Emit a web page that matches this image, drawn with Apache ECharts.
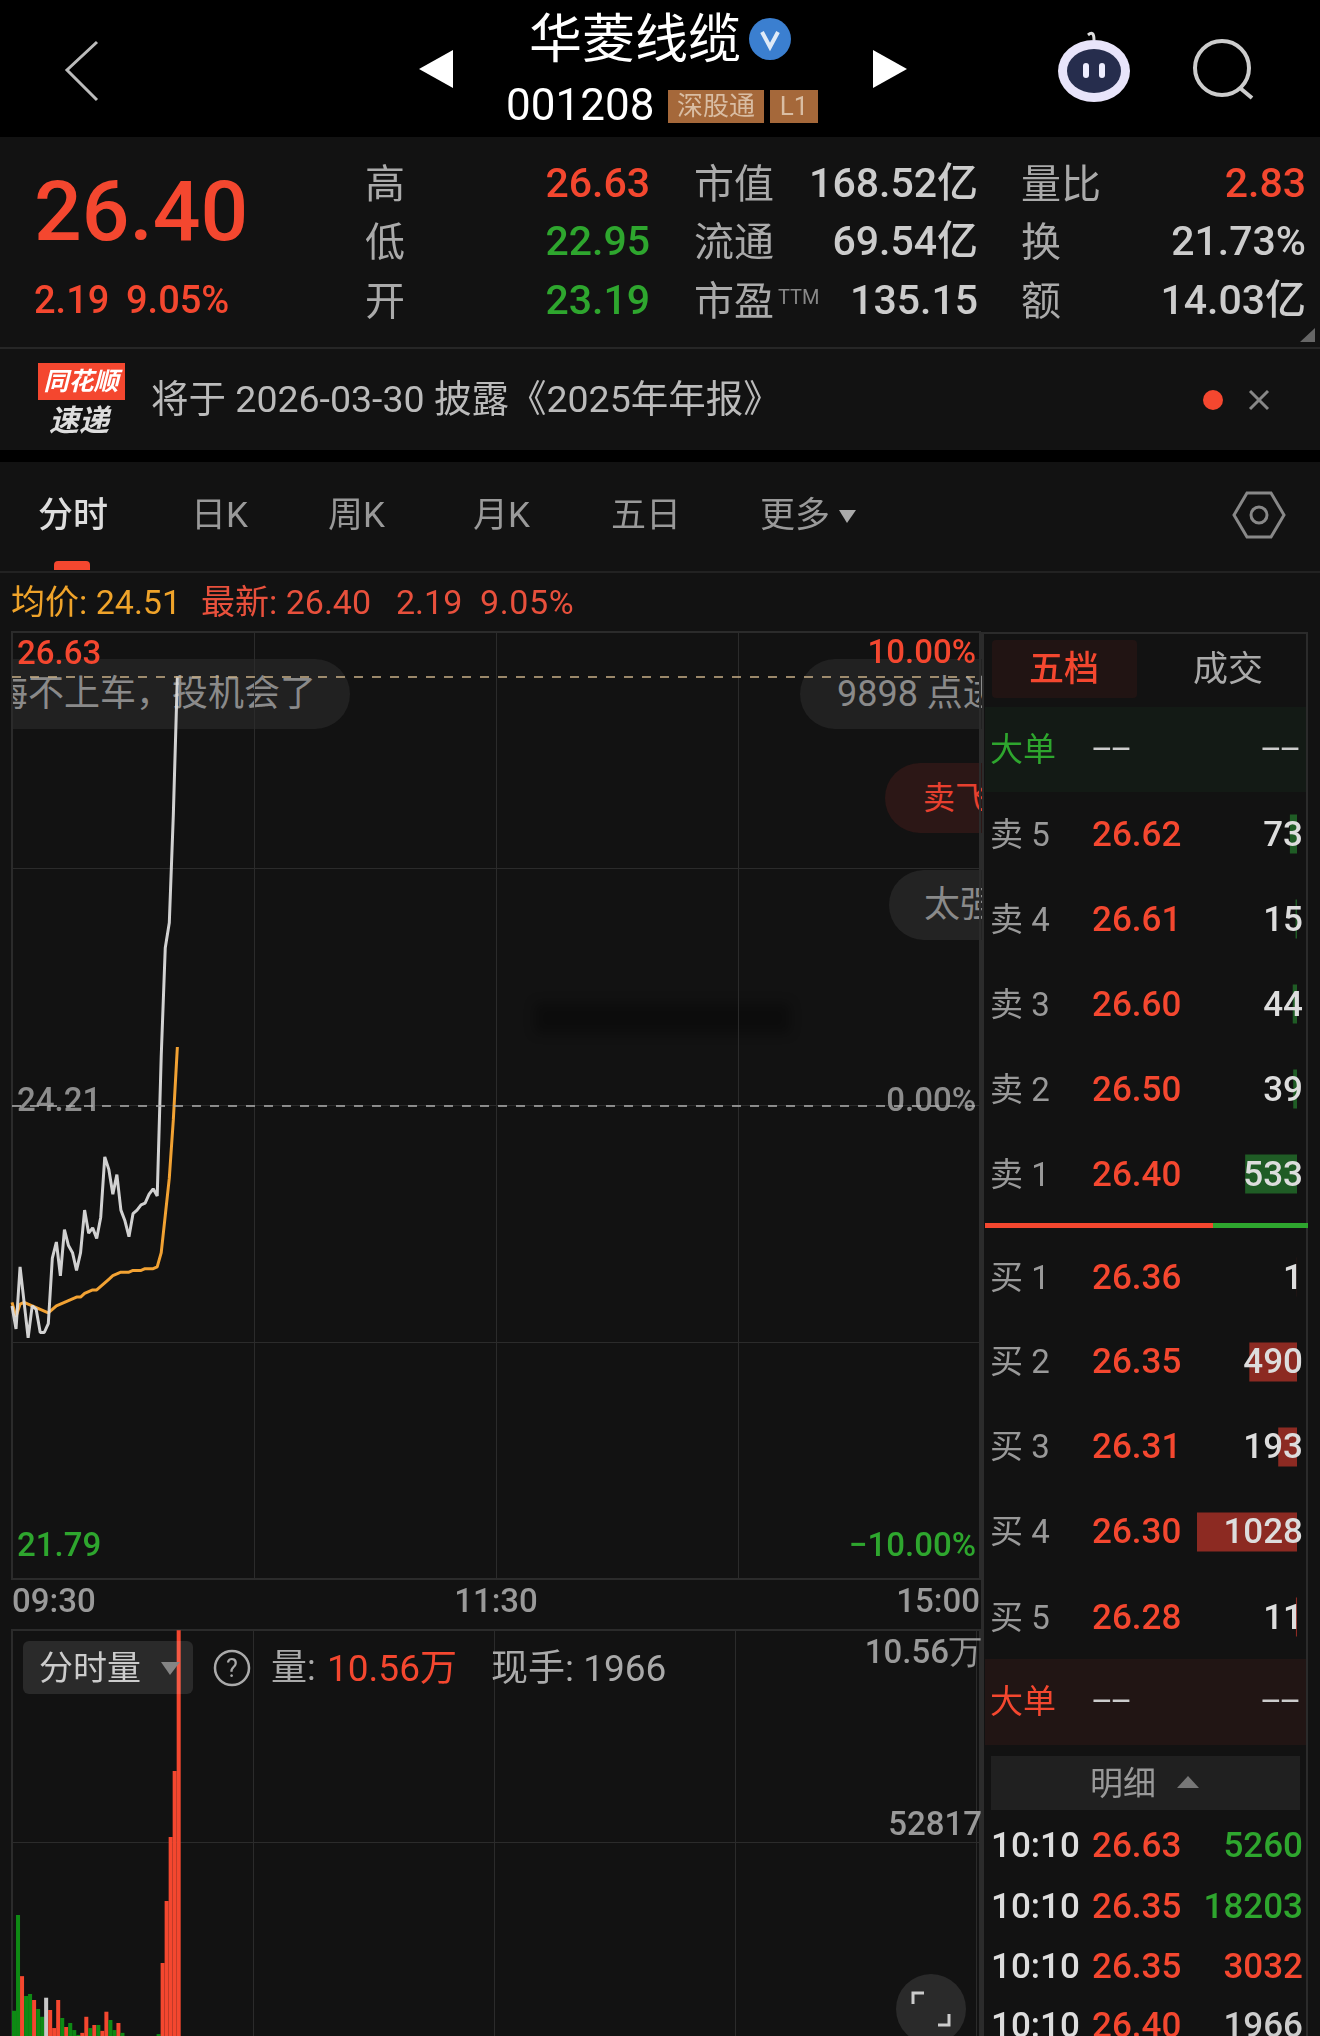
<!DOCTYPE html>
<html>
<head>
<meta charset="utf-8">
<title>华菱线缆 分时</title>
<script src="https://cdn.jsdelivr.net/npm/echarts@6/dist/echarts.min.js"></script>
<style>
  html, body { margin: 0; padding: 0; background: #121212; }
  #page { position: relative; width: 1320px; height: 2036px; overflow: hidden; background: #121212;
    font-family: Roboto, "Noto Sans CJK SC", sans-serif; color: #aaa; }
  /* 量图的底部在屏幕外，所以画布比页面高 */
  #chart { position: absolute; left: 0; top: 0; width: 1320px; height: 2100px; z-index: 2; }
  .box { position: absolute; }
  .t { position: absolute; white-space: nowrap; line-height: 1; transform: translateY(-50%); z-index: 3; }
  #danmu { position: absolute; left: 12px; top: 632px; width: 970px; height: 947px; overflow: hidden; z-index: 1; }
  svg { position: absolute; left: 0; top: 0; z-index: 3; }
</style>
</head>
<body>
<div id="page">
  <div id="danmu"></div>
  <div id="chart"></div>
  <svg width="1320" height="2036" viewBox="0 0 1320 2036" fill="none">
    <polyline points="97,42 67,70 97,100" stroke="#bbb" stroke-width="3"/>
    <polygon points="453,50 453,88 419,69" fill="#fff"/>
    <polygon points="873,50 873,88 907,69" fill="#fff"/>
    <circle cx="770" cy="39" r="21" fill="#3b7fd0"/>
    <path d="M762 32 L770 47 L778 32" stroke="#dfeaf7" stroke-width="4"/>
    <ellipse cx="1094" cy="71" rx="36" ry="31" fill="#e8e4fa"/>
    <ellipse cx="1094" cy="71" rx="27" ry="22" fill="#262d4d"/>
    <path d="M1094 40 Q1094 30 1088 35" stroke="#ddd" stroke-width="3"/>
    <rect x="1083" y="63" width="6" height="15" rx="3" fill="#eef"/>
    <rect x="1099" y="63" width="6" height="15" rx="3" fill="#eef"/>
    <circle cx="1222" cy="68" r="27" stroke="#ccc" stroke-width="4"/>
    <line x1="1240" y1="88" x2="1252" y2="98" stroke="#ccc" stroke-width="4"/>
    <polygon points="1315,328 1315,342 1300,342" fill="#666"/>
    <line x1="1250" y1="391" x2="1268" y2="409" stroke="#888" stroke-width="3"/>
    <line x1="1268" y1="391" x2="1250" y2="409" stroke="#888" stroke-width="3"/>
    <circle cx="1213" cy="400" r="10" fill="#f4472f"/>
    <polygon points="839,510 856,510 847,523" fill="#aaa"/>
    <polygon points="1234,515 1247,493 1271,493 1284,515 1271,537 1247,537" stroke="#888" stroke-width="3"/>
    <circle cx="1259" cy="515" r="8" stroke="#888" stroke-width="3"/>
    <polygon points="161,1662 180,1662 170,1675" fill="#777"/>
    <circle cx="232" cy="1668" r="17" stroke="#aaa" stroke-width="2.5"/>
    <polygon points="1177,1788 1199,1788 1188,1776" fill="#777"/>
    <circle cx="931" cy="2009" r="35" fill="#2a2a2a"/>
    <path d="M913 2004 V1993 H924 M949 2014 V2025 H938" stroke="#ccc" stroke-width="3"/>
  </svg>
</div>
<script>
// 分时价格，09:30 到 10:10
const priceValues = [23.08, 22.95, 23.30, 23.10, 22.90, 23.08, 23.06, 22.93, 22.93, 22.98, 23.35, 23.44, 23.25, 23.51,
  23.42, 23.38, 23.28, 23.38, 23.62, 23.49, 23.52, 23.46, 23.58, 23.92, 23.85, 23.71, 23.82, 23.62, 23.56, 23.47,
  23.60, 23.62, 23.65, 23.66, 23.71, 23.74, 23.70, 24.49, 25.10, 25.24, 25.85, 26.63]
const avgValues = [23.10, 23.02, 23.09, 23.10, 23.09, 23.08, 23.07, 23.06, 23.05, 23.04, 23.06, 23.08, 23.09, 23.10,
  23.11, 23.12, 23.13, 23.13, 23.15, 23.16, 23.17, 23.17, 23.19, 23.21, 23.23, 23.25, 23.26, 23.27, 23.27, 23.27,
  23.28, 23.28, 23.28, 23.29, 23.29, 23.29, 23.30, 23.38, 23.59, 23.80, 24.13, 24.54]
const volumeValues = [11000, 34800, 19600, 14660, 15160, 13670, 11430, 9500, 14240, 11180, 6700, 13670, 9200, 6960,
  7950, 6200, 5000, 5500, 9500, 6700, 7450, 7450, 6000, 10760, 8700, 6200, 7950, 5500, 4200, 3800, 3500, 3100, 3600,
  2900, 3300, 3000, 5200, 22860, 38300, 54200, 70600, 105600]
const volumeDirs = ['d', 'd', 'u', 'd', 'd', 'u', 'd', 'd', 'f', 'u', 'u', 'u', 'd', 'u', 'd', 'd', 'd', 'u', 'u', 'd',
  'u', 'd', 'u', 'u', 'd', 'd', 'u', 'd', 'u', 'd', 'u', 'u', 'd', 'u', 'd', 'u', 'd', 'u', 'u', 'u', 'u', 'u']
const priceTicks = [26.63, 24.21, 21.79]
const pctTicks = [10, 0, -10]
const volumeTicks = [105634, 52817]
const timeTicks = ['09:30', '11:30', '15:00']

// 五档
const sellLevels = ['卖 5', '卖 4', '卖 3', '卖 2', '卖 1']
const sellPrices = ['26.62', '26.61', '26.60', '26.50', '26.40']
const sellQty = [73, 15, 44, 39, 533]
const buyLevels = ['买 1', '买 2', '买 3', '买 4', '买 5']
const buyPrices = ['26.36', '26.35', '26.31', '26.30', '26.28']
const buyQty = [1, 490, 193, 1028, 11]
const detailTimes = ['10:10', '10:10', '10:10', '10:10']
const detailPrices = ['26.63', '26.35', '26.35', '26.40']
const detailQty = ['5260', '18203', '3032', '1966']

const RED = '#f4472f'
const GREEN = '#2ea62e'
const GRID_LINE = '#2b2b2b'

// 交易时段的分钟轴
const minutes = []
const pad = (n) => String(n).padStart(2, '0')
for (let m = 9 * 60 + 30; m <= 11 * 60 + 30; m++) minutes.push(pad(Math.floor(m / 60)) + ':' + pad(m % 60))
for (let m = 13 * 60 + 1; m <= 15 * 60; m++) minutes.push(pad(Math.floor(m / 60)) + ':' + pad(m % 60))

const page = document.getElementById('page')
function box(x, y, w, h, bg, parent) {
  const d = document.createElement('div')
  d.className = 'box'
  d.style.cssText = `left:${x}px;top:${y}px;width:${w}px;height:${h}px;background:${bg};`
  ;(parent || page).appendChild(d)
  return d
}
// x 是左边，right 为 true 时 x 是右边，center 为 true 时 x 是中心
function put(text, x, y, size, color, opt) {
  opt = opt || {}
  const s = document.createElement('span')
  s.className = 't'
  s.textContent = text
  s.style.fontSize = size + 'px'
  s.style.color = color
  s.style.top = y + 'px'
  if (opt.right) s.style.right = 1320 - x + 'px'
  else s.style.left = x + 'px'
  if (opt.center) s.style.transform = 'translate(-50%,-50%)'
  if (opt.weight) s.style.fontWeight = opt.weight
  if (opt.css) s.style.cssText += opt.css
  ;(opt.parent || page).appendChild(s)
  return s
}

// 顶部
box(0, 0, 1320, 137, '#000')
put('华菱线缆', 635, 40, 53, '#fff', { center: true })
put('001208', 506, 105, 44, '#fff')
box(668, 90, 96, 33, '#a5683a')
box(770, 90, 48, 33, '#a5683a')
put('深股通', 716, 106, 26, '#d9bda3', { center: true })
put('L1', 794, 106, 26, '#d9bda3', { center: true })

// 行情
put('26.40', 34, 212, 84, RED, { weight: 500 })
put('2.19', 34, 300, 38, RED, { weight: 500 })
put('9.05%', 126, 300, 38, RED, { weight: 500 })
const quoteRows = [185, 243, 302]
;['高', '低', '开'].forEach((t, i) => put(t, 385, quoteRows[i], 40, '#aaa', { center: true }))
;['26.63', '22.95', '23.19'].forEach((t, i) => put(t, 650, quoteRows[i] - 2, 41, i ? GREEN : RED, { right: true, weight: 500 }))
;['市值', '流通', '市盈'].forEach((t, i) => put(t, 694, quoteRows[i], 40, '#aaa'))
put('TTM', 778, 297, 20, '#888')
;['168.52亿', '69.54亿', '135.15'].forEach((t, i) => put(t, 978, quoteRows[i] - 2, 41, '#ccc', { right: true, weight: 500 }))
;['量比', '换', '额'].forEach((t, i) => put(t, 1021, quoteRows[i], 40, '#aaa'))
;['2.83', '21.73%', '14.03亿'].forEach((t, i) => put(t, 1306, quoteRows[i] - 2, 41, i ? '#ccc' : RED, { right: true, weight: 500 }))
box(0, 347, 1320, 2, '#262626')

// 速递
box(38, 363, 87, 37, RED)
put('同花顺', 81, 381, 25, '#fff', { center: true, weight: 700, css: 'font-style:italic;' })
put('速递', 79, 421, 30, '#ddd', { center: true, weight: 700, css: 'font-style:italic;' })
put('将于 2026-03-30 披露《2025年年报》', 151, 400, 37.5, '#bbb')
box(0, 450, 1320, 12, '#000')

// 周期切换
put('分时', 38, 515, 35, '#ddd', { weight: 500 })
;[['日K', 191], ['周K', 328], ['月K', 473], ['五日', 611], ['更多', 760]].forEach((p) => put(p[0], p[1], 515, 35, '#999'))
const pill = box(54, 561, 36, 9, RED)
pill.style.borderRadius = '4px 4px 0 0'
box(0, 571, 1320, 2, '#222')
put('均价: 24.51', 11, 602, 34, '#efa32a')
put('最新: 26.40', 201, 602, 34, '#e8503c')
put('2.19', 396, 602, 34, '#e8503c')
put('9.05%', 480, 602, 34, '#e8503c', { css: 'letter-spacing:0.6px;' })

// 弹幕，在图的下面
const danmu = document.getElementById('danmu')
function bubble(text, x, y, w, h, bg, color, textX, size) {
  const b = box(x - 12, y - 632, w, h, bg, danmu)
  b.style.borderRadius = h / 2 + 'px'
  put(text, textX - 12, y + h / 2 - 632, size, color, { parent: danmu })
}
bubble('悔不上车，投机会了', -40, 659, 390, 70, '#212121', '#8a8a8a', -8, 36)
bubble('9898 点进', 800, 659, 260, 70, '#212121', '#8a8a8a', 837, 36)
bubble('卖飞', 885, 763, 200, 70, '#2c1716', '#e8402f', 923, 32)
bubble('太强', 889, 870, 200, 70, '#232323', '#8a8a8a', 924, 36)
const smudge = box(535, 1003, 255, 30, '#000', danmu)
smudge.style.cssText += `left:${535 - 12}px;top:${1003 - 632}px;filter:blur(6px);opacity:.3;`

// 分时量
const volBtn = box(23, 1641, 170, 53, 'rgba(255,255,255,0.1)')
volBtn.style.borderRadius = '6px'
volBtn.style.zIndex = 3
put('分时量', 39, 1668, 34, '#ccc')
put('?', 232, 1668, 25, '#aaa', { center: true })
put('量:', 271, 1668, 36, '#aaa')
put('10.56万', 327, 1668, 37, RED)
put('现手: 1966', 491, 1668, 37, '#aaa')

// 右侧盘口
const frame = box(981, 632, 327, 1404, 'transparent')
frame.style.cssText += `border:solid ${GRID_LINE};border-width:2px 2px 0 3px;box-sizing:border-box;`
const tabBg = box(992, 640, 145, 58, '#211413')
tabBg.style.borderRadius = '4px'
put('五档', 1064, 669, 35, RED, { center: true, weight: 500 })
put('成交', 1228, 669, 35, '#aaa', { center: true })
box(985, 707, 321, 85, '#131a15')
box(985, 1659, 321, 86, '#211514')
const sellRows = [834, 919, 1004, 1089, 1174]
const buyRows = [1277, 1361, 1446, 1531, 1617]
const BOOK_SIZE = 35
function dashes(x, y) {
  put('——', x, y, 25, '#ccc', { weight: 500 })
}
function bookRow(level, price, qty, y) {
  put(level, 990, y, 33, '#999')
  put(price, 1092, y, BOOK_SIZE, RED, { weight: 500 })
  put(String(qty), 1303, y, BOOK_SIZE, '#ddd', { right: true, weight: 500 })
}
put('大单', 990, 749, 33, GREEN)
dashes(1092, 749)
dashes(1261, 749)
sellLevels.forEach((l, i) => bookRow(l, sellPrices[i], sellQty[i], sellRows[i]))
box(985, 1223, 228, 5, RED)
box(1213, 1223, 95, 5, GREEN)
buyLevels.forEach((l, i) => bookRow(l, buyPrices[i], buyQty[i], buyRows[i]))
put('大单', 990, 1701, 33, RED)
dashes(1092, 1701)
dashes(1261, 1701)
box(991, 1756, 309, 54, '#202020').style.zIndex = 2
put('明细', 1123, 1783, 33, '#999', { center: true })
const detailRows = [1845, 1906, 1966, 2025]
const detailColors = [GREEN, GREEN, RED, '#ccc']
detailTimes.forEach((t, i) => {
  put(t, 991, detailRows[i], BOOK_SIZE, '#ddd', { weight: 500 })
  put(detailPrices[i], 1092, detailRows[i], BOOK_SIZE, RED, { weight: 500 })
  put(detailQty[i], 1303, detailRows[i], BOOK_SIZE, detailColors[i], { right: true, weight: 500 })
})

const chart = echarts.init(document.getElementById('chart'), null, { width: 1320, height: 2100 })

const labelStyle = (color, pad) => ({ color, padding: pad, fontSize: 33, fontWeight: 500, fontFamily: 'Roboto' })
const priceRich = {
  top: labelStyle(RED, [0, 0, 42, 0]),
  mid: labelStyle('#8c8c8c', [0, 0, 6, 0]),
  low: labelStyle(GREEN, [26, 0, 0, 0]),
}
const richNames = ['top', 'mid', 'low']
const dirColor = { u: RED, d: '#0e8a14', f: '#c8c8c8' }
const minuteSplit = (i) => i % 60 === 0

const option = {
  animation: false,
  backgroundColor: 'transparent',
  grid: [
    { left: 12, top: 632, width: 968, height: 947, show: true, borderColor: GRID_LINE, borderWidth: 2 },
    { left: 12, top: 1630, width: 968, height: 425, show: true, borderColor: GRID_LINE, borderWidth: 2 },
    { left: 1197, top: 791.5, width: 100, height: 425 },
    { left: 1197, top: 1234.5, width: 100, height: 425 },
  ],
  xAxis: [
    {
      type: 'category', gridIndex: 0, data: minutes, boundaryGap: false,
      axisLine: { show: false }, axisTick: { show: false },
      splitLine: { show: true, interval: (i) => minuteSplit(i), lineStyle: { color: GRID_LINE } },
      axisLabel: {
        interval: (i) => i % 120 === 0,
        formatter: (v, i) => timeTicks[i / 120],
        color: '#999', fontSize: 33, fontWeight: 500, fontFamily: 'Roboto', margin: 8,
        alignMinLabel: 'left', alignMaxLabel: 'right',
      },
    },
    {
      type: 'category', gridIndex: 1, data: minutes, boundaryGap: true,
      axisLine: { show: false }, axisTick: { show: false }, axisLabel: { show: false },
      splitLine: { show: true, interval: (i) => minuteSplit(i), lineStyle: { color: GRID_LINE } },
    },
    { type: 'value', gridIndex: 2, inverse: true, min: 0, max: 1028, show: false },
    { type: 'value', gridIndex: 3, inverse: true, min: 0, max: 1028, show: false },
  ],
  yAxis: [
    {
      type: 'value', gridIndex: 0, min: 21.54, max: 26.88, position: 'left',
      axisLine: { show: false }, axisTick: { show: false }, splitLine: { show: false },
      axisLabel: {
        inside: true, margin: 5, customValues: priceTicks,
        formatter: (v) => `{${richNames[priceTicks.indexOf(v)]}|${v.toFixed(2)}}`,
        rich: priceRich,
      },
    },
    {
      type: 'value', gridIndex: 0, min: -11.02, max: 11.02, interval: 5.51, position: 'right',
      axisLine: { show: false }, axisTick: { show: false },
      splitLine: { show: true, lineStyle: { color: GRID_LINE } },
      axisLabel: {
        inside: true, margin: 4, customValues: pctTicks,
        formatter: (v) => `{${richNames[pctTicks.indexOf(v)]}|${v === -10 ? '−10.00' : v.toFixed(2)}%}`,
        rich: priceRich,
      },
    },
    {
      type: 'value', gridIndex: 1, min: 0, max: 105634, interval: 52817, position: 'right',
      axisLine: { show: false }, axisTick: { show: false },
      splitLine: { show: true, lineStyle: { color: GRID_LINE } },
      axisLabel: {
        inside: true, margin: -2, customValues: volumeTicks,
        formatter: (v) => (v === volumeTicks[0] ? '{a|10.56万}' : '{b|' + v + '}'),
        rich: {
          a: labelStyle('#999', [50, 0, 0, 0]),
          b: labelStyle('#999', [0, 0, 32, 0]),
        },
      },
    },
    { type: 'category', gridIndex: 2, inverse: true, data: sellLevels, show: false },
    { type: 'category', gridIndex: 3, inverse: true, data: buyLevels, show: false },
  ],
  series: [
    {
      type: 'line', name: '均价', xAxisIndex: 0, yAxisIndex: 0, data: avgValues, showSymbol: false,
      lineStyle: { color: '#f2a233', width: 3 }, z: 3,
    },
    {
      type: 'line', name: '价格', xAxisIndex: 0, yAxisIndex: 0, data: priceValues, showSymbol: false,
      lineStyle: { color: '#dcdcdc', width: 3, opacity: 0.95 }, z: 4,
      markLine: {
        silent: true, symbol: 'none', label: { show: false }, animation: false,
        data: [
          { yAxis: 26.63, lineStyle: { color: '#c9b088', type: [9, 9], width: 1.5 } },
          { yAxis: 24.21, lineStyle: { color: '#b0b0b0', type: [9, 9], width: 1.5 } },
        ],
      },
    },
    {
      type: 'bar', name: '量', xAxisIndex: 1, yAxisIndex: 2, barCategoryGap: '0%',
      data: volumeValues.map((v, i) => ({ value: v, itemStyle: { color: dirColor[volumeDirs[i]] } })),
    },
    {
      type: 'bar', name: '卖盘', xAxisIndex: 2, yAxisIndex: 3, data: sellQty, barWidth: 39, barMinHeight: 1,
      itemStyle: { color: '#1f5c25' },
    },
    {
      type: 'bar', name: '买盘', xAxisIndex: 3, yAxisIndex: 4, data: buyQty, barWidth: 39,
      itemStyle: { color: '#8c2a22' },
    },
  ],
}
chart.setOption(option)
</script>
</body>
</html>
